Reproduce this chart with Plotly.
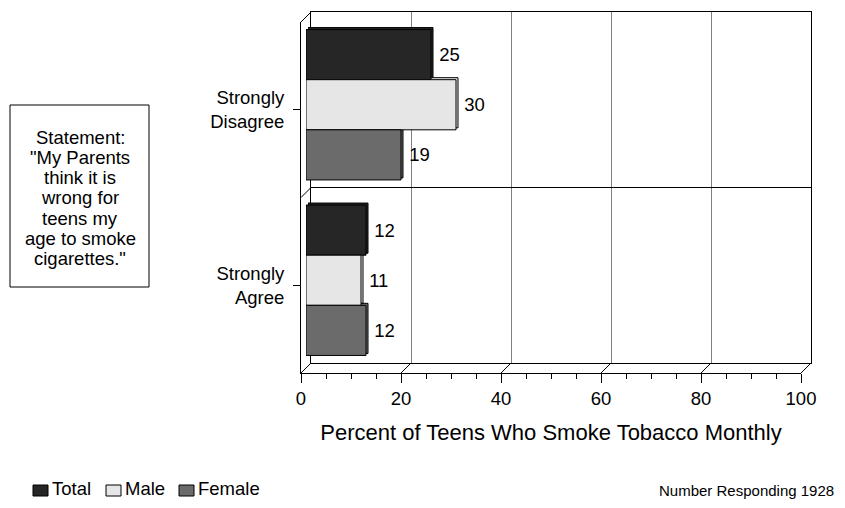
import plotly.graph_objects as go

# data
categories = ["Strongly<br>Disagree", "Strongly<br>Agree"]
series_names = ["Total", "Male", "Female"]
total = [25, 12]
male = [30, 11]
female = [19, 12]
x_ticks = [0, 20, 40, 60, 80, 100]
statement_lines = ["Statement:", "\"My Parents", "think it is", "wrong for",
                   "teens my", "age to smoke", "cigarettes.\""]

series_values = [total, male, female]
series_colors = ["#262626", "#e6e6e6", "#6b6b6b"]

# the page body has an 8px margin, so the figure is drawn 8px in
# and made smaller so the page does not overflow the window
OFF = 8
W, H = 845 - 2 * OFF, 508 - 2 * OFF
FONT = "Arial, Liberation Sans, sans-serif"
FS = 18.5

# pixel geometry (window pixels) of the pseudo 3D box
front_x0, axis_len = 301, 500
front_top, front_bottom = 22, 373
depth = 10


def fx(px):
    return (px - OFF) / W


def fy(py):
    return 1 - (py - OFF) / H


def dom_x(shift):
    return [fx(front_x0 + shift), fx(front_x0 + axis_len + shift)]


def dom_y(shift):
    return [fy(front_bottom - shift), fy(front_top - shift)]


fig = go.Figure()

# invisible trace to hold the back wall subplot
fig.add_trace(go.Scatter(x=[0, 100], y=[0, 2], mode="markers",
                         marker=dict(opacity=0), showlegend=False,
                         hoverinfo="skip", xaxis="x", yaxis="y"))

# shadow bars (side faces), drawn slightly back and up
for name, vals, col in zip(series_names, series_values, series_colors):
    fig.add_trace(go.Bar(y=categories, x=vals, orientation="h", name=name,
                         marker=dict(color=col, line=dict(color="black", width=1)),
                         showlegend=False, hoverinfo="skip",
                         xaxis="x2", yaxis="y2"))

# front bars at half depth
for name, vals, col in zip(series_names, series_values, series_colors):
    fig.add_trace(go.Bar(y=categories, x=vals, orientation="h", name=name,
                         marker=dict(color=col, line=dict(color="black", width=1)),
                         text=vals, texttemplate="\u00a0%{x}", textposition="outside",
                         outsidetextfont=dict(color="black", size=FS, family=FONT),
                         cliponaxis=False, showlegend=False,
                         xaxis="x3", yaxis="y3"))

# invisible trace to hold the front category axis
fig.add_trace(go.Scatter(x=[0, 0], y=categories, mode="markers",
                         marker=dict(opacity=0), showlegend=False,
                         hoverinfo="skip", xaxis="x4", yaxis="y4"))

hidden = dict(visible=False, fixedrange=True)
cat_range = [1.5, -0.5]

fig.update_layout(
    template="none",
    width=W, height=H,
    margin=dict(l=0, r=0, t=0, b=0, autoexpand=False),
    paper_bgcolor="white", plot_bgcolor="rgba(0,0,0,0)",
    font=dict(family=FONT, size=FS, color="black"),
    barmode="group", bargap=0.143, bargroupgap=0,
    showlegend=False,
    # back wall
    xaxis=dict(domain=dom_x(depth), range=[0, 100], tickvals=x_ticks,
               showticklabels=False, ticks="", showgrid=True,
               gridcolor="#808080", gridwidth=1, zeroline=False,
               showline=True, mirror=True, linecolor="black", linewidth=1,
               anchor="y"),
    yaxis=dict(domain=dom_y(depth), range=[0, 2], tickvals=[1],
               showticklabels=False, ticks="", showgrid=True,
               gridcolor="black", gridwidth=1, zeroline=False,
               showline=True, mirror=True, linecolor="black", linewidth=1,
               anchor="x"),
    # shadows
    xaxis2=dict(domain=dom_x(depth / 2 + 2), range=[0, 100], anchor="y2", **hidden),
    yaxis2=dict(domain=dom_y(depth / 2 + 2), type="category", range=cat_range,
                anchor="x2", **hidden),
    # bars
    xaxis3=dict(domain=dom_x(depth / 2), range=[0, 100], anchor="y3", **hidden),
    yaxis3=dict(domain=dom_y(depth / 2), type="category", range=cat_range,
                anchor="x3", **hidden),
    # front axes
    xaxis4=dict(domain=dom_x(0), range=[0, 100], tickvals=x_ticks,
                ticks="outside", ticklen=9, tickcolor="black",
                minor=dict(dtick=5, ticks="outside", ticklen=5, tickcolor="black"),
                showgrid=False, zeroline=False, showline=True,
                linecolor="black", linewidth=1, anchor="y4",
                title=dict(text="Percent of Teens Who Smoke Tobacco Monthly",
                           standoff=16)),
    yaxis4=dict(domain=dom_y(0), type="category", range=cat_range,
                ticks="outside", ticklen=7, tickcolor="black",
                ticklabelstandoff=5,
                showgrid=False, zeroline=False, showline=True,
                linecolor="black", linewidth=1, anchor="x4"),
)

# floor diagonals at each major gridline
for v in x_ticks:
    x0 = front_x0 + v * axis_len / 100
    fig.add_shape(type="line", xref="paper", yref="paper",
                  x0=fx(x0), y0=fy(front_bottom),
                  x1=fx(x0 + depth), y1=fy(front_bottom - depth),
                  line=dict(color="black", width=1))

# left wall diagonals: top, divider, bottom
for py in [front_top, (front_top + front_bottom) / 2, front_bottom]:
    fig.add_shape(type="line", xref="paper", yref="paper",
                  x0=fx(front_x0), y0=fy(py),
                  x1=fx(front_x0 + depth), y1=fy(py - depth),
                  line=dict(color="black", width=1))

# statement box
fig.add_shape(type="rect", xref="paper", yref="paper",
              x0=fx(10), y0=fy(287), x1=fx(149), y1=fy(105),
              line=dict(color="black", width=1), fillcolor="white")
for i, line in enumerate(statement_lines):
    fig.add_annotation(text=line, xref="paper", yref="paper",
                       x=fx(80), y=fy(137 + 20.3 * i), xanchor="center",
                       yanchor="middle", showarrow=False,
                       font=dict(size=FS))

# legend row: swatch then name
legend_x = [33, 106, 179]
for name, col, lx in zip(series_names, series_colors, legend_x):
    fig.add_shape(type="rect", xref="paper", yref="paper",
                  x0=fx(lx), y0=fy(496), x1=fx(lx + 15), y1=fy(485),
                  line=dict(color="black", width=1), fillcolor=col)
    fig.add_annotation(text=name, xref="paper", yref="paper",
                       x=fx(lx + 17), y=fy(488), xanchor="left",
                       yanchor="middle", showarrow=False,
                       font=dict(size=FS))

fig.add_annotation(text="Number Responding 1928", xref="paper", yref="paper",
                   x=fx(836), y=fy(490), xanchor="right", yanchor="middle",
                   showarrow=False, font=dict(size=15))

fig.write_html("out.html")
